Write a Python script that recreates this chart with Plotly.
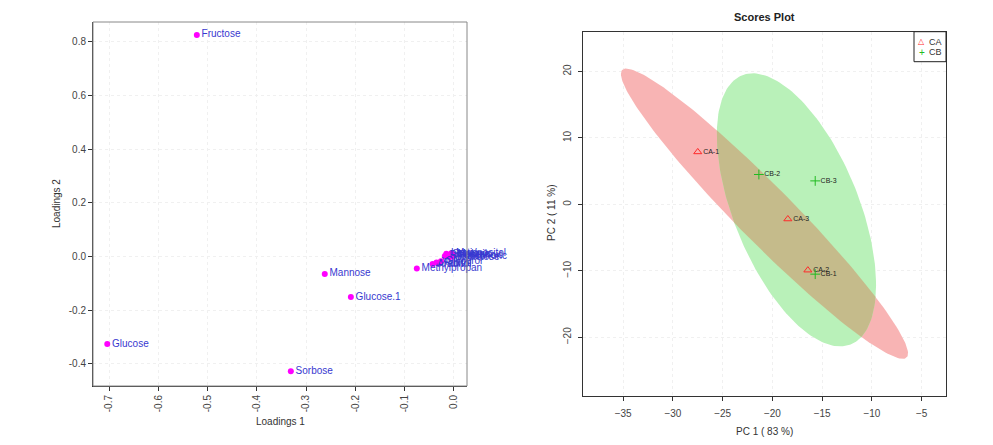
import numpy as np
import plotly.graph_objects as go

# ---------------- Loadings data (left panel) ----------------
load_names = ["Fructose", "Glucose", "Sorbose", "Mannose", "Glucose.1", "Methylpropan",
              "Myoinositol", "Malonic", "Pentanoic", "Succinic", "Ribose", "Galactose",
              "Phosphoric", "Lactic", "Glycerol", "Xylitol", "Arabitol", "Ribitol"]
load_x = [-0.522, -0.704, -0.331, -0.262, -0.209, -0.075,
          -0.005, -0.002, 0.000, -0.012, -0.018, -0.008,
          -0.003, -0.015, -0.026, -0.035, -0.043, -0.030]
load_y = [0.825, -0.326, -0.427, -0.065, -0.151, -0.045,
          0.012, 0.008, 0.004, 0.006, 0.002, -0.002,
          0.000, 0.010, -0.018, -0.022, -0.028, -0.026]
load_xticks = [-0.7, -0.6, -0.5, -0.4, -0.3, -0.2, -0.1, 0.0]
load_yticks = [-0.4, -0.2, 0.0, 0.2, 0.4, 0.6, 0.8]

# ---------------- Scores data (right panel) ----------------
ca_names = ["CA-1", "CA-3", "CA-2"]
ca_x = [-27.5, -18.45, -16.44]
ca_y = [7.9, -2.2, -9.9]
cb_names = ["CB-2", "CB-3", "CB-1"]
cb_x = [-21.36, -15.7, -15.7]
cb_y = [4.5, 3.54, -10.5]
score_xticks = [-35, -30, -25, -20, -15, -10, -5]
score_yticks = [-20, -10, 0, 10, 20]
groups = ["CA", "CB"]

FONT = "Liberation Sans, Arial, sans-serif"
CA_COL = "#ff2a2a"
CB_COL = "#22bb22"


def conf_ellipse(xs, ys, level=0.95, n=200):
    pts = np.column_stack([xs, ys]).astype(float)
    c = pts.mean(axis=0)
    cov = np.cov(pts.T)
    t = np.sqrt(-2.0 * np.log(1.0 - level))  # chi-square df=2 quantile
    vals, vecs = np.linalg.eigh(cov)
    th = np.linspace(0, 2 * np.pi, n, endpoint=False)
    circ = np.column_stack([np.cos(th), np.sin(th)])
    e = circ * (t * np.sqrt(np.maximum(vals, 0)))
    e = e @ vecs.T + c
    x, y = e[:, 0], e[:, 1]
    area = 0.5 * np.sum(x * np.roll(y, -1) - np.roll(x, -1) * y)
    if area < 0:
        e = e[::-1]
    return [tuple(p) for p in e]


def clip_poly(subject, clipper):
    def inside(p, a, b):
        return (b[0] - a[0]) * (p[1] - a[1]) - (b[1] - a[1]) * (p[0] - a[0]) >= 0

    def inter(s, e, a, b):
        x1, y1 = s; x2, y2 = e; x3, y3 = a; x4, y4 = b
        den = (x1 - x2) * (y3 - y4) - (y1 - y2) * (x3 - x4)
        t = ((x1 - x3) * (y3 - y4) - (y1 - y3) * (x3 - x4)) / den
        return (x1 + t * (x2 - x1), y1 + t * (y2 - y1))

    out = list(subject)
    for i in range(len(clipper)):
        a = clipper[i]; b = clipper[(i + 1) % len(clipper)]
        inp = out; out = []
        if not inp:
            break
        s = inp[-1]
        for e in inp:
            if inside(e, a, b):
                if not inside(s, a, b):
                    out.append(inter(s, e, a, b))
                out.append(e)
            elif inside(s, a, b):
                out.append(inter(s, e, a, b))
            s = e
    return out


ell_ca = conf_ellipse(ca_x, ca_y)
ell_cb = conf_ellipse(cb_x, cb_y)
ell_ov = clip_poly(ell_ca, ell_cb)

fig = go.Figure()

# Left: loadings
fig.add_trace(go.Scatter(
    x=load_x, y=load_y, mode="markers+text", text=load_names,
    textposition="middle right",
    textfont=dict(family=FONT, size=10, color="#3838d0"),
    marker=dict(color="#ff00ff", size=6),
    showlegend=False, xaxis="x", yaxis="y", cliponaxis=False))


def poly_trace(poly, color):
    xs = [p[0] for p in poly] + [poly[0][0]]
    ys = [p[1] for p in poly] + [poly[0][1]]
    return go.Scatter(x=xs, y=ys, mode="lines", fill="toself", fillcolor=color,
                      line=dict(width=0, color=color), showlegend=False,
                      hoverinfo="skip", xaxis="x2", yaxis="y2")


fig.add_trace(poly_trace(ell_ca, "#f8b4b4"))
fig.add_trace(poly_trace(ell_cb, "#b9f1b9"))
if len(ell_ov) > 2:
    fig.add_trace(poly_trace(ell_ov, "#c5bb8b"))

fig.add_trace(go.Scatter(
    x=ca_x, y=ca_y, mode="markers+text", text=ca_names, name=groups[0],
    textposition="middle right", textfont=dict(family=FONT, size=7, color="#222"),
    marker=dict(symbol="triangle-up-open", color=CA_COL, size=7, line=dict(width=1)),
    xaxis="x2", yaxis="y2", showlegend=False))
fig.add_trace(go.Scatter(
    x=cb_x, y=cb_y, mode="markers+text", text=cb_names, name=groups[1],
    textposition="middle right", textfont=dict(family=FONT, size=7, color="#222"),
    marker=dict(symbol="cross-thin-open", color=CB_COL, size=7, line=dict(width=1, color=CB_COL)),
    xaxis="x2", yaxis="y2", showlegend=False))

L = dict(x0=93 / 993, x1=467 / 993, y0=1 - 386 / 445, y1=1 - 22 / 445)
R = dict(x0=583.3 / 993, x1=946 / 993, y0=1 - 395.7 / 445, y1=1 - 31.7 / 445)

axcommon = dict(showgrid=True, gridcolor="#f0f0f0", griddash="dot", gridwidth=1,
                zeroline=False, ticks="outside", ticklen=4, tickcolor="#333",
                tickfont=dict(family=FONT, size=10, color="#444"),
                showline=True, linecolor="#333", linewidth=1)


def px(xp):
    return xp / 993


def py(yp):
    return 1 - yp / 445


def ann(text, x, y, size=10, color="#333", angle=0, xanchor="center"):
    return dict(text=text, x=px(x), y=py(y), xref="paper", yref="paper", showarrow=False,
                xanchor=xanchor, yanchor="middle", textangle=angle, borderpad=0,
                font=dict(family=FONT, size=size, color=color))


annotations = [
    ann("Loadings 1", 280, 421.7),
    ann("Loadings 2", 57, 204, angle=-90),
    ann("<b>Scores Plot</b>", 764, 17, size=11, color="#222"),
    ann("PC 1 ( 83 %)", 764, 431),
    ann("PC 2 ( 11 %)", 551, 213, angle=-90),
    # compact legend
    ann("△", 921.5, 41.5, size=8, color=CA_COL),
    ann(groups[0], 927.5, 41.7, size=9, xanchor="left"),
    ann("+", 921.5, 52, size=10, color=CB_COL),
    ann(groups[1], 927.5, 52, size=9, xanchor="left"),
]

fig.update_layout(
    width=993, height=445, margin=dict(l=0, r=0, t=0, b=0),
    paper_bgcolor="white", plot_bgcolor="white", showlegend=False,
    font=dict(family=FONT, size=10, color="#333"),
    xaxis=dict(domain=[L["x0"], L["x1"]], range=[-0.733, 0.027], tickvals=load_xticks,
               ticktext=[f"{v:.1f}" for v in load_xticks], tickangle=-90,
               anchor="y", **axcommon),
    yaxis=dict(domain=[L["y0"], L["y1"]], range=[-0.482, 0.873], tickvals=load_yticks,
               ticktext=[f"{v:.1f}" for v in load_yticks], anchor="x", **axcommon),
    xaxis2=dict(domain=[R["x0"], R["x1"]], range=[-39.0, -2.56], tickvals=score_xticks,
                anchor="y2", mirror=True, ticklabelstandoff=4, **axcommon),
    yaxis2=dict(domain=[R["y0"], R["y1"]], range=[-28.8, 26.0], tickvals=score_yticks,
                tickangle=-90, anchor="x2", mirror=True, ticklabelstandoff=3, **axcommon),
    shapes=[
        dict(type="rect", xref="paper", yref="paper", x0=L["x0"], x1=L["x1"],
             y0=L["y0"], y1=L["y1"], line=dict(color="#888", width=1), layer="above"),
        dict(type="rect", xref="paper", yref="paper", x0=px(914), x1=R["x1"],
             y0=py(61.7), y1=R["y1"], line=dict(color="#222", width=1),
             fillcolor="white", layer="above"),
    ],
    annotations=annotations,
)

fig.write_html("out.html", config={"displayModeBar": False},
               post_script="document.body.style.margin='0';document.body.style.padding='0';")
